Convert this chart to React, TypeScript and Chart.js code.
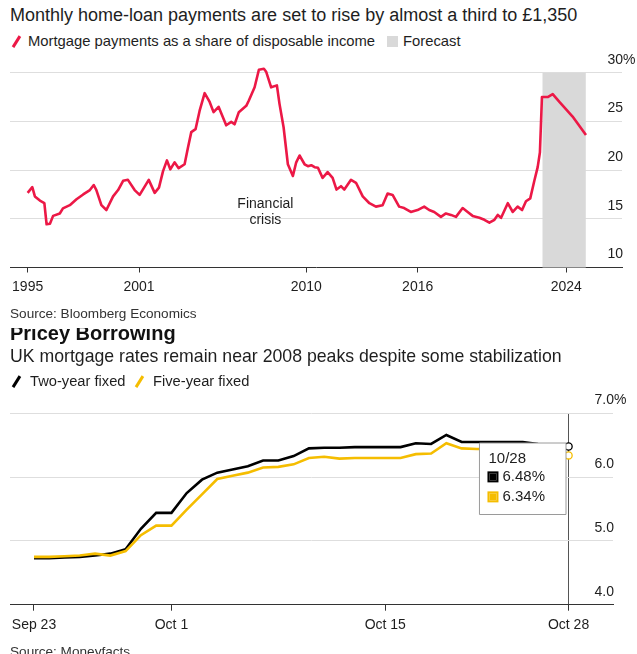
import React, { useEffect, useRef } from 'react';
import { Chart, registerables, Tooltip } from 'chart.js';

Chart.register(...registerables);

const FONT = '"Liberation Sans", Arial, sans-serif';
const TEXT = '#1e1e1e';
const GRID = '#dedede';
const AXIS = '#333333';
const RED = '#ec1846';
const BLACK = '#000000';
const YELLOW = '#f5bd00';
const FORECAST_FILL = '#d9d9d9';

// ---------- Top chart: mortgage payments share ----------
const shareYears = [
  1995.0, 1995.25, 1995.39, 1995.66, 1995.9, 1996.02, 1996.2, 1996.37, 1996.73, 1996.9,
  1997.27, 1997.63, 1997.99, 1998.35, 1998.56, 1998.7, 1998.97, 1999.24, 1999.6, 1999.87,
  2000.14, 2000.4, 2000.76, 2001.03, 2001.52, 2001.84, 2002.07, 2002.29, 2002.5, 2002.68,
  2002.91, 2003.13, 2003.45, 2003.63, 2003.81, 2004.04, 2004.26, 2004.53, 2004.8, 2005.01,
  2005.28, 2005.69, 2005.96, 2006.14, 2006.37, 2006.77, 2006.91, 2007.22, 2007.45, 2007.72,
  2007.84, 2008.11, 2008.42, 2008.56, 2008.78, 2009.01, 2009.28, 2009.46, 2009.64, 2009.91,
  2010.09, 2010.27, 2010.45, 2010.63, 2010.88, 2011.15, 2011.42, 2011.63, 2011.87, 2012.05,
  2012.41, 2012.68, 2013.04, 2013.4, 2013.75, 2014.11, 2014.38, 2014.65, 2015.0, 2015.27,
  2015.63, 2015.99, 2016.35, 2016.62, 2016.89, 2017.25, 2017.52, 2017.79, 2018.06, 2018.42,
  2018.69, 2018.96, 2019.32, 2019.59, 2019.86, 2020.13, 2020.31, 2020.49, 2020.85, 2021.12,
  2021.38, 2021.62, 2021.83, 2022.06, 2022.28, 2022.46, 2022.58, 2022.69, 2023.0, 2023.27,
  2023.63, 2024.34, 2025.06,
];
const shareValues = [
  17.66, 18.25, 17.3, 16.87, 16.62, 14.44, 14.5, 15.3, 15.55, 16.07,
  16.4, 17.0, 17.5, 17.95, 18.47, 17.95, 16.4, 15.9, 17.3, 17.95,
  18.9, 19.0, 17.95, 17.45, 19.0, 17.66, 18.2, 19.9, 21.0, 20.08,
  20.8, 20.2, 20.6, 22.3, 23.9, 24.2, 26.1, 27.9, 27.0, 25.95,
  26.5, 24.6, 24.95, 24.7, 25.95, 26.6, 27.15, 28.5, 30.3, 30.4,
  30.1, 28.5, 28.7, 26.8, 24.4, 20.6, 19.4, 20.8, 21.5, 20.6,
  20.4, 20.5, 20.3, 20.25, 19.2, 19.8, 19.2, 18.0, 18.35, 18.0,
  19.0, 18.7, 17.3, 16.6, 16.25, 16.4, 17.6, 17.45, 16.25, 16.1,
  15.7, 15.9, 16.25, 15.9, 15.7, 15.2, 15.55, 15.4, 15.2, 16.1,
  15.7, 15.3, 15.1, 14.9, 14.6, 14.9, 15.4, 15.1, 16.6, 15.7,
  16.25, 15.9, 16.8, 17.1, 18.9, 20.3, 21.8, 27.5, 27.5, 27.8,
  27.0, 25.5, 23.6,
];
const topXTicks = [1995, 2001, 2010, 2016, 2024];
const topYTicks = [10, 15, 20, 25, 30];
const forecastStart = 2022.72;
const forecastEnd = 2025.05;
const crisisText = ['Financial', 'crisis'];
const crisisYear = 2007.8;
const crisisValue = 16.5;

// ---------- Bottom chart: UK mortgage rates ----------
const rateDates = [
  '9/23', '9/24', '9/25', '9/26', '9/27', '9/28', '9/29', '9/30', '10/1', '10/2',
  '10/3', '10/4', '10/5', '10/6', '10/7', '10/8', '10/9', '10/10', '10/11', '10/12',
  '10/13', '10/14', '10/15', '10/16', '10/17', '10/18', '10/19', '10/20', '10/21', '10/22',
  '10/23', '10/24', '10/25', '10/26', '10/27', '10/28',
];
const twoYearFixed = [
  4.73, 4.73, 4.74, 4.75, 4.77, 4.8, 4.87, 5.19, 5.44, 5.44,
  5.75, 5.96, 6.07, 6.12, 6.17, 6.26, 6.26, 6.33, 6.45, 6.46,
  6.46, 6.47, 6.47, 6.47, 6.47, 6.53, 6.52, 6.66, 6.55, 6.55,
  6.55, 6.55, 6.55, 6.52, 6.5, 6.48,
];
const fiveYearFixed = [
  4.75, 4.75, 4.76, 4.77, 4.8, 4.77, 4.84, 5.09, 5.24, 5.24,
  5.49, 5.73, 5.97, 6.02, 6.07, 6.15, 6.16, 6.2, 6.3, 6.32,
  6.29, 6.3, 6.3, 6.3, 6.3, 6.36, 6.37, 6.53, 6.45, 6.44,
  6.44, 6.44, 6.42, 6.4, 6.37, 6.34,
];
const bottomXTickPos = [0, 9, 23, 35];
const bottomXTickLabels = ['Sep 23', 'Oct 1', 'Oct 15', 'Oct 28'];
const bottomYTicks = [4, 5, 6, 7];

// y-axis labels drawn above gridlines at the right end, with hanging "%"
function rightLabels(decimals: number) {
  return {
    id: 'rightLabels',
    afterDraw(chart: any) {
      const ys = chart.scales.y;
      const ctx = chart.ctx;
      const right = chart.chartArea.right + 1;
      ctx.save();
      ctx.font = `14px ${FONT}`;
      ctx.fillStyle = TEXT;
      ctx.textBaseline = 'middle';
      ys.ticks.forEach((t: any) => {
        const y = ys.getPixelForValue(t.value) - 13;
        ctx.textAlign = 'right';
        ctx.fillText(Number(t.value).toFixed(decimals), right, y);
        if (t.value === ys.max) {
          ctx.textAlign = 'left';
          ctx.fillText('%', right, y);
        }
      });
      ctx.restore();
    },
  };
}

const forecastPlugin = {
  id: 'forecast',
  beforeDatasetsDraw(chart: any) {
    const xs = chart.scales.x;
    const { top, bottom } = chart.chartArea;
    const x0 = xs.getPixelForValue(forecastStart);
    const x1 = xs.getPixelForValue(forecastEnd);
    const ctx = chart.ctx;
    ctx.save();
    ctx.fillStyle = FORECAST_FILL;
    ctx.fillRect(x0, top, x1 - x0, bottom - top);
    ctx.restore();
  },
};

const crisisPlugin = {
  id: 'crisis',
  afterDatasetsDraw(chart: any) {
    const x = chart.scales.x.getPixelForValue(crisisYear);
    const y = chart.scales.y.getPixelForValue(crisisValue);
    const ctx = chart.ctx;
    ctx.save();
    ctx.font = `14px ${FONT}`;
    ctx.fillStyle = TEXT;
    ctx.textAlign = 'center';
    ctx.textBaseline = 'middle';
    crisisText.forEach((s, i) => ctx.fillText(s, x, y + i * 16));
    ctx.restore();
  },
};

(Tooltip as any).positioners.lastPoint = function (items: any[]) {
  if (!items.length) return false;
  const el = items[0].element;
  return { x: Math.round(el.x - 3), y: Math.round(el.y - 3.3) };
};

function TopChart() {
  const ref = useRef<HTMLCanvasElement>(null);
  useEffect(() => {
    const chart = new Chart(ref.current!, {
      type: 'line',
      data: {
        datasets: [
          {
            label: 'Mortgage payments as a share of disposable income',
            data: shareYears.map((x, i) => ({ x, y: shareValues[i] })),
            borderColor: RED,
            borderWidth: 2.6,
            pointRadius: 0,
            tension: 0,
            clip: false,
            borderJoinStyle: 'round',
          },
        ],
      },
      options: {
        animation: false,
        responsive: false,
        events: [],
        layout: { padding: { left: 10, right: 15, top: 22.7, bottom: 6.7 } },
        plugins: { legend: { display: false }, tooltip: { enabled: false } },
        scales: {
          x: {
            type: 'linear',
            min: 1994.05,
            max: 2027,
            afterBuildTicks: (s: any) => {
              s.ticks = topXTicks.map((v) => ({ value: v }));
            },
            ticks: {
              autoSkip: false,
              maxRotation: 0,
              padding: 6,
              color: TEXT,
              font: { family: FONT, size: 14 },
              callback: (v: any) => String(v),
            },
            grid: { drawOnChartArea: false, drawTicks: true, tickLength: 5, tickColor: AXIS },
            border: { color: AXIS, width: 1 },
          },
          y: {
            position: 'right',
            min: 10,
            max: 30,
            afterBuildTicks: (s: any) => {
              s.ticks = topYTicks.map((v) => ({ value: v }));
            },
            ticks: { display: false },
            grid: {
              drawTicks: false,
              color: (c: any) => (c.tick && c.tick.value === 10 ? 'rgba(0,0,0,0)' : GRID),
            },
            border: { display: false },
          },
        },
      },
      plugins: [forecastPlugin, crisisPlugin, rightLabels(0)],
    } as any);
    return () => chart.destroy();
  }, []);
  return (
    <canvas
      ref={ref}
      width={637}
      height={258}
      style={{ position: 'absolute', left: 0, top: 50, width: 637, height: 258 }}
    />
  );
}

function BottomChart() {
  const ref = useRef<HTMLCanvasElement>(null);
  useEffect(() => {
    const last = rateDates.length - 1;
    const colors = [BLACK, YELLOW];
    const chart = new Chart(ref.current!, {
      type: 'line',
      data: {
        datasets: [
          {
            label: 'Two-year fixed',
            data: twoYearFixed.map((y, i) => ({ x: i, y })),
            borderColor: BLACK,
            borderWidth: 2.6,
            tension: 0,
            order: 1,
            pointRadius: (c: any) => (c.dataIndex === last ? 3.6 : 0),
            pointBackgroundColor: '#ffffff',
            pointBorderColor: BLACK,
            pointBorderWidth: 1.3,
          },
          {
            label: 'Five-year fixed',
            data: fiveYearFixed.map((y, i) => ({ x: i, y })),
            borderColor: YELLOW,
            borderWidth: 2.6,
            tension: 0,
            order: 0,
            pointRadius: (c: any) => (c.dataIndex === last ? 3.6 : 0),
            pointBackgroundColor: '#ffffff',
            pointBorderColor: YELLOW,
            pointBorderWidth: 1.3,
          },
        ],
      },
      options: {
        animation: false,
        responsive: false,
        events: [],
        layout: { padding: { left: 10, right: 24, top: 28.3, bottom: 6.5 } },
        interaction: { mode: 'index', intersect: false },
        plugins: {
          legend: { display: false },
          tooltip: {
            enabled: true,
            position: 'lastPoint',
            xAlign: 'right',
            yAlign: 'top',
            caretSize: 0,
            caretPadding: 0,
            cornerRadius: 0,
            backgroundColor: '#ffffff',
            borderColor: '#9a9a9a',
            borderWidth: 1,
            titleColor: TEXT,
            bodyColor: TEXT,
            titleFont: { family: FONT, size: 15, weight: 'normal', lineHeight: 1.15 },
            bodyFont: { family: FONT, size: 15, lineHeight: 1.15 },
            titleMarginBottom: 1,
            bodySpacing: 2.75,
            padding: { top: 7, left: 9, right: 21, bottom: 9 },
            boxWidth: 9,
            boxHeight: 9,
            boxPadding: 3,
            multiKeyBackground: 'rgba(0,0,0,0)',
            displayColors: true,
            callbacks: {
              title: (items: any[]) => rateDates[items[0].dataIndex],
              label: (c: any) => c.parsed.y.toFixed(2) + '%',
              labelColor: (c: any) => ({
                borderColor: colors[c.datasetIndex],
                backgroundColor: colors[c.datasetIndex],
                borderWidth: 2,
              }),
            },
          },
        },
        scales: {
          x: {
            type: 'linear',
            min: -1.57,
            max: 37.91,
            afterBuildTicks: (s: any) => {
              s.ticks = bottomXTickPos.map((v) => ({ value: v }));
            },
            ticks: {
              autoSkip: false,
              maxRotation: 0,
              padding: 6,
              color: TEXT,
              font: { family: FONT, size: 14 },
              callback: (v: any) => bottomXTickLabels[bottomXTickPos.indexOf(v)],
            },
            grid: {
              drawOnChartArea: true,
              drawTicks: true,
              tickLength: 6,
              tickColor: AXIS,
              color: (c: any) => (c.tick && c.tick.value === last ? '#555555' : 'rgba(0,0,0,0)'),
            },
            border: { color: AXIS, width: 1 },
          },
          y: {
            position: 'right',
            min: 4,
            max: 7,
            afterBuildTicks: (s: any) => {
              s.ticks = bottomYTicks.map((v) => ({ value: v }));
            },
            ticks: { display: false },
            grid: {
              drawTicks: false,
              color: (c: any) => (c.tick && c.tick.value === 4 ? 'rgba(0,0,0,0)' : GRID),
            },
            border: { display: false },
          },
        },
      },
      plugins: [rightLabels(1)],
    } as any);
    chart.tooltip!.setActiveElements(
      [
        { datasetIndex: 0, index: last },
        { datasetIndex: 1, index: last },
      ],
      { x: 0, y: 0 }
    );
    chart.draw();
    return () => chart.destroy();
  }, []);
  return (
    <canvas
      ref={ref}
      width={637}
      height={261}
      style={{ position: 'absolute', left: 0, top: 385, width: 637, height: 261 }}
    />
  );
}

function Txt(props: {
  x: number;
  cy: number;
  size: number;
  children: any;
  weight?: number;
  color?: string;
}) {
  const h = Math.round(props.size * 1.3);
  return (
    <div
      style={{
        position: 'absolute',
        left: props.x,
        top: props.cy - h / 2,
        height: h,
        lineHeight: `${h}px`,
        fontSize: props.size,
        fontWeight: props.weight || 400,
        color: props.color || TEXT,
        whiteSpace: 'nowrap',
      }}
    >
      {props.children}
    </div>
  );
}

function Slash(props: { cx: number; cy: number; color: string }) {
  return (
    <div
      style={{
        position: 'absolute',
        left: props.cx - 1.3,
        top: props.cy - 6.5,
        width: 2.6,
        height: 13,
        background: props.color,
        transform: 'rotate(32deg)',
      }}
    />
  );
}

export default function App() {
  return (
    <div
      style={{
        position: 'absolute',
        left: 0,
        top: 0,
        width: 637,
        height: 654,
        overflow: 'hidden',
        background: '#ffffff',
        fontFamily: FONT,
      }}
    >
      <Txt x={10} cy={15} size={18}>
        Monthly home-loan payments are set to rise by almost a third to £1,350
      </Txt>
      <Slash cx={16} cy={41} color={RED} />
      <Txt x={28} cy={41} size={14.8}>
        Mortgage payments as a share of disposable income
      </Txt>
      <div
        style={{
          position: 'absolute',
          left: 387,
          top: 36,
          width: 11,
          height: 11,
          background: FORECAST_FILL,
        }}
      />
      <Txt x={403} cy={41} size={14.8}>
        Forecast
      </Txt>
      <TopChart />
      <Txt x={10} cy={314} size={13.6} color="#333333">
        Source: Bloomberg Economics
      </Txt>
      <div
        style={{
          position: 'absolute',
          left: 10,
          top: 328,
          height: 20,
          overflow: 'hidden',
          whiteSpace: 'nowrap',
        }}
      >
        <div
          style={{
            marginTop: -5,
            height: 20,
            lineHeight: '20px',
            fontSize: 20,
            fontWeight: 700,
            color: '#111111',
          }}
        >
          Pricey Borrowing
        </div>
      </div>
      <Txt x={10} cy={356} size={17.7}>
        UK mortgage rates remain near 2008 peaks despite some stabilization
      </Txt>
      <Slash cx={16} cy={381} color={BLACK} />
      <Txt x={30} cy={381} size={14.7}>
        Two-year fixed
      </Txt>
      <Slash cx={139} cy={381} color={YELLOW} />
      <Txt x={153} cy={381} size={14.7}>
        Five-year fixed
      </Txt>
      <BottomChart />
      <Txt x={10} cy={652} size={13.6} color="#333333">
        Source: Moneyfacts
      </Txt>
    </div>
  );
}
